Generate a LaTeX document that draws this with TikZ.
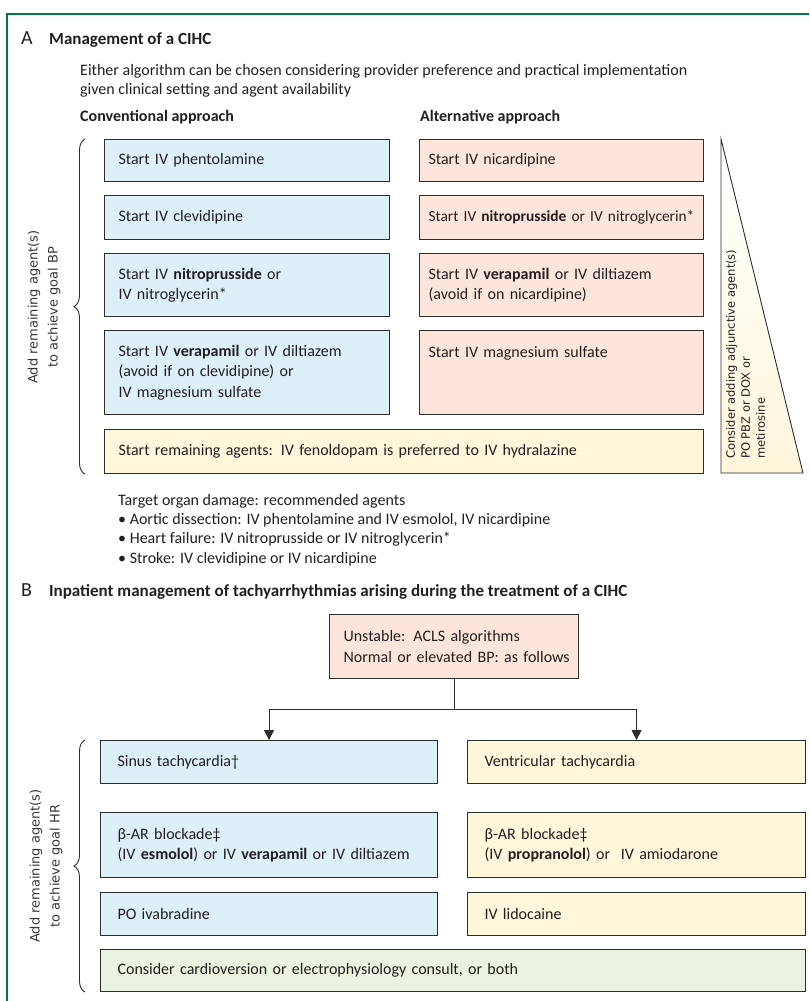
\documentclass[tikz,border=0pt]{standalone}
\usepackage{fontspec}
\setmainfont{Carlito}
\newfontfamily\labelfont{DejaVu Sans}
\usetikzlibrary{arrows.meta,decorations.pathreplacing}
\definecolor{cframe}{RGB}{0,121,72}
\definecolor{cline}{RGB}{45,45,45}
\definecolor{ctext}{RGB}{35,31,32}
\definecolor{cgray}{RGB}{55,55,55}
\definecolor{cblue}{RGB}{221,239,247}
\definecolor{cpink}{RGB}{252,230,220}
\definecolor{cyellow}{RGB}{255,246,219}
\definecolor{cgreen}{RGB}{234,243,224}

\begin{document}
\begin{tikzpicture}[x=1pt, y=-1pt,
    box/.style = {draw=cline, line width=1.1pt, anchor=north west,
        inner xsep=14pt, inner ysep=0pt, align=left, text=ctext,
        font=\fontsize{16}{20.5}\selectfont},
    bluebox/.style = {box, fill=cblue},
    pinkbox/.style = {box, fill=cpink, inner xsep=9pt},
    yelbox/.style = {box, fill=cyellow},
    greenbox/.style = {box, fill=cgreen},
    txt/.style = {anchor=north west, inner sep=0pt, align=left, text=ctext,
        font=\fontsize{16}{19.3}\selectfont},
    heading/.style = {anchor=base west, inner sep=0pt, text=ctext,
        font=\fontsize{20}{20}\selectfont},
    title/.style = {anchor=base west, inner sep=0pt, text=ctext,
        font=\bfseries\fontsize{17}{20}\selectfont},
    sidelabel/.style = {rotate=90, align=center, text=cgray,
        font=\labelfont\fontsize{13}{20}\selectfont},
    tritext/.style = {rotate=90, anchor=north west, inner sep=0pt, align=left,
        text=ctext, font=\labelfont\fontsize{11.5}{15}\selectfont},
    curly/.style = {decorate, decoration={brace, amplitude=11pt}, draw=cline,
        line width=0.9pt},
    conn/.style = {draw=cline, line width=1.1pt},
    arr/.style = {conn, -{Triangle[width=10pt,length=10pt]}}]
  \useasboundingbox (0,0) rectangle (809,1001);
  \draw[cframe, line width=1.3pt] (809,14) -- (7,14) -- (7,1001);

  \node[heading] (lblA) at (21,44) {A};
  \node[title] (titleA) at (49,44) {Management of a CIHC};
  \node[txt] (either) at (80,64) {Either algorithm can be chosen considering provider preference and practical implementation\\given clinical setting and agent availability};
  \node[txt, font=\bfseries\fontsize{16}{19}\selectfont] (conv) at (80,110) {Conventional approach};
  \node[txt, font=\bfseries\fontsize{16}{19}\selectfont] (alt) at (420,110) {Alternative approach};

  \node[bluebox, text width=257pt, minimum height=42pt] (c1) at (104,139) {Start IV phentolamine};
  \node[bluebox, text width=257pt, minimum height=44pt] (c2) at (104,195) {Start IV clevidipine};
  \node[bluebox, text width=257pt, minimum height=63pt] (c3) at (104,253) {Start IV \textbf{nitroprusside} or\\IV nitroglycerin*};
  \node[bluebox, text width=257pt, minimum height=84pt] (c4) at (104,330) {Start IV \textbf{verapamil} or IV diltiazem\\(avoid if on clevidipine) or\\IV magnesium sulfate};

  \node[pinkbox, text width=266pt, minimum height=42pt] (a1) at (419,139) {Start IV nicardipine};
  \node[pinkbox, text width=266pt, minimum height=44pt, font=\fontsize{15.4}{20.5}\selectfont] (a2) at (419,195) {\mbox{Start IV \textbf{nitroprusside} or IV nitroglycerin*}};
  \node[pinkbox, text width=266pt, minimum height=63pt] (a3) at (419,253) {Start IV \textbf{verapamil} or IV diltiazem\\(avoid if on nicardipine)};
  \node[pinkbox, text width=266pt, minimum height=84pt] (a4) at (419,330) {Start IV magnesium sulfate\\\mbox{}\\\mbox{}};

  \node[yelbox, text width=571pt, minimum height=44pt] (rem) at (104,429) {Start remaining agents: IV fenoldopam is preferred to IV hydralazine};

  \coordinate (ttop) at (721,139);
  \coordinate (tbot) at (721,473);
  \coordinate (tright) at (803,473);
  \shadedraw[draw=cline, line width=0.9pt, top color=white, bottom color=cyellow] (ttop) -- (tbot) -- (tright) -- cycle;
  \node[tritext] (adj) at (726,459) {Consider adding adjunctive agent(s)\\PO PBZ or DOX or\\metirosine};

  \draw[curly] ([xshift=-19pt]rem.south west) -- ([xshift=-19pt]c1.north west);
  \node[sidelabel] (goalbp) at (44,307) {Add remaining agent(s)\\to achieve goal BP};

  \node[txt] (organ) at (118,494) {Target organ damage: recommended agents\\• Aortic dissection: IV phentolamine and IV esmolol, IV nicardipine\\• Heart failure: IV nitroprusside or IV nitroglycerin*\\• Stroke: IV clevidipine or IV nicardipine};

  \node[heading] (lblB) at (21,596) {B};
  \node[title] (titleB) at (49,596) {Inpatient management of tachyarrhythmias arising during the treatment of a CIHC};

  \node[pinkbox, inner xsep=14pt, text width=221pt, minimum height=64pt] (unstable) at (329,614) {Unstable: ACLS algorithms\\\mbox{Normal or elevated BP: as follows}};

  \node[bluebox, inner xsep=17pt, text width=303pt, minimum height=43pt] (sinus) at (100,740) {Sinus tachycardia†};
  \node[yelbox, inner xsep=17pt, text width=304pt, minimum height=43pt] (ventr) at (467,740) {Ventricular tachycardia};
  \node[bluebox, inner xsep=17pt, text width=303pt, minimum height=65pt] (betas) at (100,812) {β-AR blockade‡\\(IV \textbf{esmolol}) or IV \textbf{verapamil} or IV diltiazem};
  \node[yelbox, inner xsep=17pt, text width=304pt, minimum height=65pt] (betav) at (467,812) {β-AR blockade‡\\(IV \textbf{propranolol}) or\ \ IV amiodarone};
  \node[bluebox, inner xsep=17pt, text width=303pt, minimum height=43pt] (ivab) at (100,892) {PO ivabradine};
  \node[yelbox, inner xsep=17pt, text width=304pt, minimum height=43pt] (lido) at (467,892) {IV lidocaine};
  \node[greenbox, inner xsep=17pt, text width=671pt, minimum height=42pt] (cardio) at (100,949) {Consider cardioversion or electrophysiology consult, or both};

  \draw[conn] (unstable.south) -- ++(0,30) coordinate (split);
  \draw[arr] (split) -| (sinus.north);
  \draw[arr] (split) -| (ventr.north);

  \draw[curly] ([xshift=-15pt]cardio.south west) -- ([xshift=-15pt]sinus.north west);
  \node[sidelabel] (goalhr) at (46,866) {Add remaining agent(s)\\to achieve goal HR};
\end{tikzpicture}
\end{document}
